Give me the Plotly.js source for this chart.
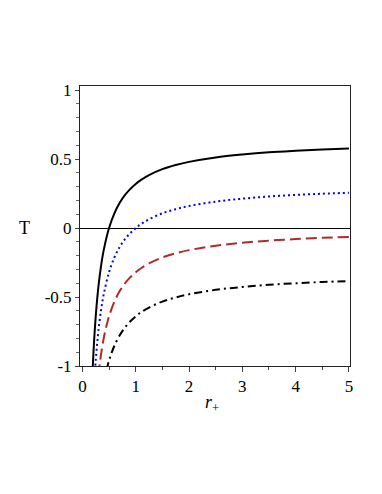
<!DOCTYPE html>
<html>
<head>
<meta charset="utf-8">
<script src="https://cdn.plot.ly/plotly-3.0.1.min.js"></script>
<style>
  html, body { margin: 0; padding: 0; background: #fff; }
  #chart { width: 382px; height: 494px; }
</style>
</head>
<body>
<div id="chart"></div>
<script>
// ─────────────────────────────
// DATOS
// ─────────────────────────────
const rNegro = [0.18, 0.2, 0.22, 0.25, 0.3, 0.35, 0.4, 0.5, 0.6, 0.7, 0.8, 0.9, 1, 1.1, 1.25, 1.5, 1.75, 2, 2.5, 3, 3.5, 4, 4.5, 5];
const tNegro = [-1.138, -0.96, -0.815, -0.64, -0.427, -0.274, -0.16, 0, 0.107, 0.183, 0.24, 0.284, 0.32, 0.349, 0.384, 0.427, 0.457, 0.48, 0.512, 0.533, 0.549, 0.56, 0.569, 0.576];

const rAzul = [0.23, 0.25, 0.275, 0.3, 0.35, 0.4, 0.5, 0.6, 0.7, 0.8, 0.9, 1, 1.1, 1.25, 1.5, 1.75, 2, 2.5, 3, 3.5, 4, 4.5, 5];
const tAzul = [-1.071, -0.96, -0.844, -0.747, -0.594, -0.48, -0.32, -0.213, -0.137, -0.08, -0.036, 0, 0.029, 0.064, 0.107, 0.137, 0.16, 0.192, 0.213, 0.229, 0.24, 0.249, 0.256];

const rRojo = [0.3, 0.32, 0.35, 0.4, 0.45, 0.5, 0.6, 0.7, 0.8, 0.9, 1, 1.1, 1.25, 1.5, 1.75, 2, 2.5, 3, 3.5, 4, 4.5, 5];
const tRojo = [-1.067, -1.0, -0.914, -0.8, -0.711, -0.64, -0.533, -0.457, -0.4, -0.356, -0.32, -0.291, -0.256, -0.213, -0.183, -0.16, -0.128, -0.107, -0.091, -0.08, -0.071, -0.064];

const rPuntoRaya = [0.45, 0.5, 0.55, 0.6, 0.7, 0.8, 0.9, 1, 1.1, 1.25, 1.5, 1.75, 2, 2.5, 3, 3.5, 4, 4.5, 5];
const tPuntoRaya = [-1.031, -0.96, -0.902, -0.853, -0.777, -0.72, -0.676, -0.64, -0.611, -0.576, -0.533, -0.503, -0.48, -0.448, -0.427, -0.411, -0.4, -0.391, -0.384];

const xTicks = [0, 1, 2, 3, 4, 5];
const yTicks = [-1, -0.5, 0, 0.5, 1];
const yTickText = ['-1', '-0.5', '0', '0.5', '1'];

// ─────────────────────────────
// TRAZAS
// ─────────────────────────────
function _traza(x, y, color, dash) {
  return {
    x, y,
    type: 'scatter',
    mode: 'lines',
    line: { color, width: 2, dash, shape: 'spline', smoothing: 1 },
    hoverinfo: 'skip'
  };
}

const traces = [
  _traza(rNegro, tNegro, '#000000', 'solid'),
  _traza(rAzul, tAzul, '#0000ff', '2px,3px'),
  _traza(rRojo, tRojo, '#b02a2a', '11px,5px'),
  _traza(rPuntoRaya, tPuntoRaya, '#000000', '8px,4px,2px,4px')
];

const serif = 'Liberation Serif';

const layout = {
  width: 382,
  height: 494,
  margin: { l: 80, r: 32, t: 86, b: 128 },
  showlegend: false,
  paper_bgcolor: '#fff',
  plot_bgcolor: '#fff',
  font: { family: serif, size: 17, color: '#000' },
  xaxis: {
    range: [-0.045, 5.02],
    tickvals: xTicks,
    ticks: 'outside',
    ticklen: 5,
    tickcolor: '#444',
    showline: true,
    linecolor: '#222',
    linewidth: 1,
    mirror: true,
    showgrid: false,
    zeroline: false,
    tickfont: { family: serif, size: 17, color: '#000' },
    minor: { dtick: 0.5, ticks: 'outside', ticklen: 3, tickcolor: '#444', showgrid: false }
  },
  yaxis: {
    range: [-1, 1.03],
    tickvals: yTicks,
    ticktext: yTickText,
    ticks: 'outside',
    ticklen: 4,
    tickcolor: '#444',
    showline: true,
    linecolor: '#222',
    linewidth: 1,
    mirror: true,
    showgrid: false,
    zeroline: true,
    zerolinecolor: '#000',
    zerolinewidth: 1,
    tickfont: { family: serif, size: 17, color: '#000' },
    minor: { dtick: 0.1, ticks: 'outside', ticklen: 3, tickcolor: '#666', showgrid: false }
  },
  annotations: [
    {
      text: 'T', xref: 'paper', yref: 'y', x: -0.205, y: 0,
      xanchor: 'center', yanchor: 'middle', showarrow: false,
      font: { family: serif, size: 18, color: '#000' }
    },
    {
      text: '<i>r</i><sub>+</sub>', xref: 'paper', yref: 'paper',
      x: 0.49, y: -0.085, xanchor: 'center', yanchor: 'top', showarrow: false,
      font: { family: serif, size: 18, color: '#000' }
    }
  ]
};

Plotly.newPlot('chart', traces, layout, { displayModeBar: false, staticPlot: true });
</script>
</body>
</html>
